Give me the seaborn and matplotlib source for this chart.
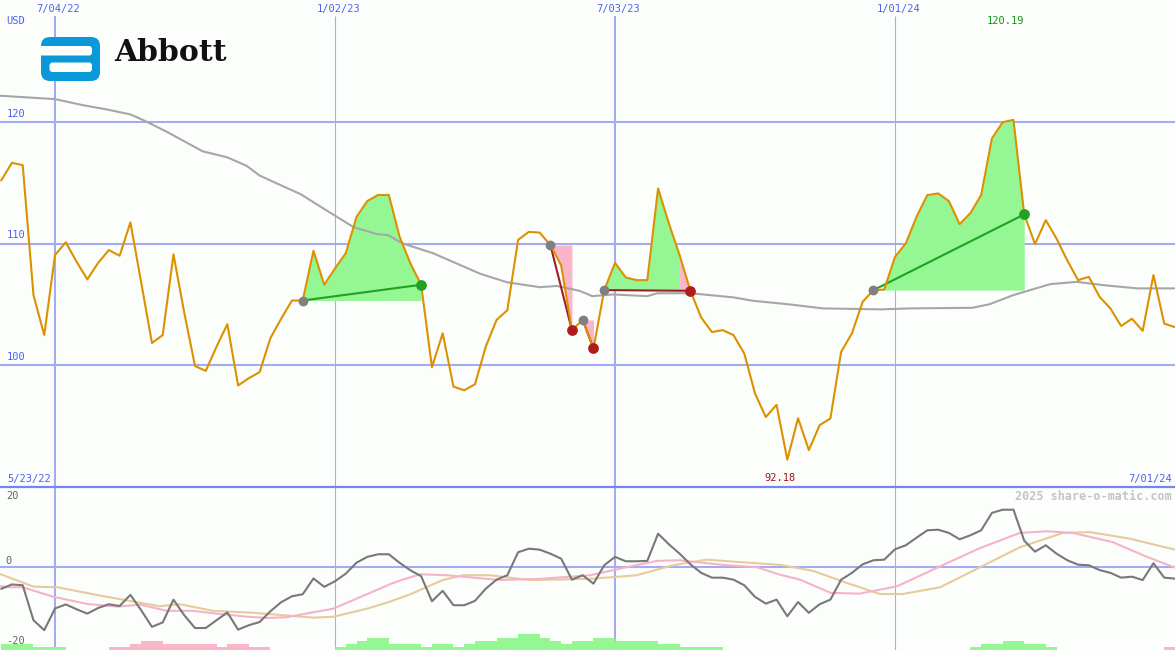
import numpy as np
import matplotlib
matplotlib.use("Agg")
import matplotlib.pyplot as plt
import matplotlib.transforms as mtransforms
from matplotlib.patches import FancyBboxPatch
import seaborn as sns

# ── Data (weekly, week 1 = 5/30/22) ────────────────────────────────────────
weeks = list(range(1, 111))
price = [115.2, 116.65, 116.46, 105.75, 102.45, 109.05, 110.1, 108.5, 107.04, 108.4,
         109.46, 108.99, 111.74, 106.8, 101.8, 102.45, 109.1, 104.3, 99.9, 99.5,
         101.5, 103.35, 98.3, 98.9, 99.4, 102.2, 103.8, 105.3, 105.3, 109.4,
         106.6, 107.95, 109.2, 112.2, 113.5, 114.0, 114.0, 110.55, 108.36, 106.6,
         99.8, 102.6, 98.2, 97.9, 98.4, 101.5, 103.7, 104.5, 110.3, 110.96,
         110.9, 109.87, 108.2, 102.86, 103.7, 101.35, 106.16, 108.4, 107.2, 106.98,
         106.98, 114.54, 111.66, 109.04, 106.1, 103.9, 102.7, 102.86, 102.45, 100.94,
         97.64, 95.7, 96.7, 92.18, 95.6, 92.97, 95.03, 95.58, 101.07, 102.6,
         105.2, 106.16, 106.2, 108.9, 110.0, 112.2, 113.99, 114.13, 113.5, 111.6,
         112.5, 114.0, 118.66, 120.0, 120.19, 112.4, 109.95, 111.93, 110.4, 108.6,
         106.98, 107.25, 105.6, 104.65, 103.2, 103.8, 102.8, 107.4, 103.4, 103.1]

ma_weeks = [0.9, 6.0, 8.6, 10.8, 13.0, 14.2, 16.4, 19.7, 22.0, 23.8, 25.0, 26.6, 28.8,
            30.9, 33.7, 35.9, 36.9, 38.3, 41.1, 45.5, 48.0, 51.0, 52.6, 54.7, 55.9,
            57.8, 61.0, 61.9, 65.0, 69.0, 70.8, 74.0, 77.3, 82.6, 85.4, 91.2, 92.8,
            95.0, 98.4, 100.9, 103.3, 106.5, 110.0]
ma_vals = [122.18, 121.9, 121.4, 121.05, 120.64, 120.17, 119.2, 117.6, 117.1, 116.4,
           115.6, 114.95, 114.07, 112.9, 111.36, 110.77, 110.7, 110.0, 109.2, 107.5,
           106.8, 106.4, 106.5, 106.1, 105.66, 105.8, 105.66, 105.9, 105.9, 105.56,
           105.28, 105.0, 104.65, 104.57, 104.65, 104.7, 105.0, 105.75, 106.65, 106.84,
           106.57, 106.3, 106.3]

osc = [-5.4, -4.3, -4.5, -13.25, -15.75, -10.3, -9.3, -10.5, -11.6, -10.2,
       -9.25, -9.7, -6.9, -10.75, -14.9, -13.8, -8.1, -12.0, -15.2, -15.2,
       -13.25, -11.3, -15.6, -14.5, -13.7, -11.0, -8.75, -7.25, -6.75, -2.8,
       -4.9, -3.5, -1.6, 1.15, 2.6, 3.25, 3.25, 1.1, -0.75, -2.25,
       -8.5, -5.9, -9.5, -9.5, -8.4, -5.35, -3.1, -2.0, 3.75, 4.65,
       4.4, 3.4, 2.15, -3.1, -2.0, -4.1, 0.5, 2.6, 1.5, 1.5,
       1.6, 8.4, 5.75, 3.4, 0.75, -1.4, -2.6, -2.6, -3.1, -4.5,
       -7.4, -9.1, -8.1, -12.25, -8.7, -11.4, -9.25, -8.1, -3.1, -1.4,
       0.75, 1.75, 1.9, 4.5, 5.5, 7.4, 9.25, 9.4, 8.6, 7.0,
       8.0, 9.25, 13.6, 14.4, 14.4, 6.65, 3.9, 5.5, 3.4, 1.75,
       0.65, 0.5, -0.7, -1.4, -2.6, -2.35, -3.2, 1.0, -2.6, -2.85]

sig_weeks = [0.9, 1.8, 3.0, 4.0, 5.8, 9.0, 11.8, 13.9, 16.4, 18.8, 21.3, 23.8, 25.7,
             27.5, 30.0, 31.8, 35.0, 37.1, 38.0, 39.9, 42.4, 47.3, 51.0, 55.7, 58.7,
             61.9, 64.0, 68.0, 71.2, 73.3, 75.2, 78.0, 80.7, 84.2, 88.2, 91.9, 95.6,
             98.1, 100.5, 104.2, 107.4, 110.0]
sig_vals = [-4.75, -5.0, -5.0, -5.85, -7.35, -9.2, -9.85, -9.35, -10.9, -10.9, -11.7,
            -12.35, -12.7, -12.5, -11.25, -10.4, -6.7, -4.25, -3.35, -1.75, -2.0, -3.2,
            -2.9, -2.0, -0.2, 1.6, 1.75, 0.6, 0.0, -1.85, -3.1, -6.4, -6.6, -4.75,
            0.25, 4.8, 8.6, 9.0, 8.6, 6.3, 2.6, -0.1]

slow_weeks = [0.9, 4.0, 6.2, 10.2, 15.7, 17.6, 20.7, 24.4, 27.2, 30.0, 31.8, 35.0,
              37.1, 39.0, 42.0, 43.9, 46.4, 50.1, 55.7, 60.0, 63.4, 66.5, 69.6, 73.3,
              76.4, 79.5, 82.6, 84.7, 88.2, 91.9, 95.6, 99.6, 102.1, 105.8, 110.0]
slow_vals = [-1.7, -4.85, -5.0, -7.1, -9.75, -9.25, -10.9, -11.4, -12.0, -12.6, -12.4,
             -10.35, -8.6, -6.75, -3.2, -2.0, -2.0, -3.2, -2.9, -2.0, 0.5, 1.9, 1.3,
             0.6, -0.9, -3.9, -6.7, -6.7, -5.0, 0.0, 5.0, 8.6, 8.8, 7.15, 4.4]

bar_levels = ([2] * 3 + [1] * 3 + [0] * 4 + [-1] * 2 + [-2] + [-3] * 2 + [-2] * 5 + [-1]
              + [-2] * 2 + [-1] * 2 + [0] * 6 + [1, 2, 3, 4, 4, 2, 2, 2, 1, 2, 2, 1, 2]
              + [3, 3, 4, 4, 5, 5, 4, 3, 2, 3, 3, 4, 4, 3, 3, 3, 3, 2, 2, 1, 1, 1, 1]
              + [0] * 23 + [1, 2, 2, 3, 3, 2, 2, 1] + [0] * 10 + [-1, 0])

entry_weeks = [29, 52, 55, 57, 82]
exit_weeks = [40, 54, 56, 65, 96]

date_weeks = [6, 32, 58, 84]
date_labels = ["7/04/22", "1/02/23", "7/03/23", "1/01/24"]
price_grid = [100, 110, 120]
osc_ticks = [20, 0, -20]
start_label, end_label = "5/23/22", "7/01/24"

# ── Style ──────────────────────────────────────────────────────────────────
BG = "#fcfefc"
GRID = "#a3acf2"
BLUE_TXT = "#5060ee"
GREEN_FILL, PINK_FILL = "#94f794", "#f8b6c8"
LOGO_BLUE = "#0a99d8"
W, H = 1175, 650
SPLIT = 487

sns.set_style("white")
plt.rcParams["font.family"] = ["DejaVu Sans Mono", "DejaVu Sans"]

fig = plt.figure(figsize=(W / 100, H / 100), dpi=100, facecolor=BG)
ax = fig.add_axes([0, (H - SPLIT) / H, 1, SPLIT / H], facecolor=BG)
ax2 = fig.add_axes([0, 0, 1, (H - SPLIT) / H], facecolor=BG)
XLIM = (0.891, 110.0)
for a in (ax, ax2):
    a.set_xlim(*XLIM)
    a.set_xticks([]); a.set_yticks([])
    for s in a.spines.values():
        s.set_visible(False)
ax.set_ylim(89.93, 130.07)
ax2.set_ylim(-20.7, 20.08)

# ── grid ──
for w, lab in zip(date_weeks, date_labels):
    lw = 1.5 if lab.startswith("7/") else 0.8
    ax.vlines(w, 89.93, 128.75, color=GRID, lw=lw, zorder=0)
    ax2.axvline(w, color=GRID, lw=lw, zorder=0)
for v in price_grid:
    ax.axhline(v, color=GRID, lw=1.5, zorder=0)
ax2.axhline(0, color=GRID, lw=1.5, zorder=0)
ax2.axhline(20, color="#7885ee", lw=1.6, zorder=6, clip_on=False)

# ── top panel ──
p = np.array(price)
wk = np.array(weeks)
for e, x in zip(entry_weeks, exit_weeks):
    sw, sp = wk[e - 1:x], p[e - 1:x]
    lvl = p[e - 1]
    up = sp >= lvl
    down = ~up
    down = down | np.r_[down[1:], False]
    ax.fill_between(sw, sp, lvl, where=up, color=GREEN_FILL, lw=0, zorder=1)
    ax.fill_between(sw, sp, lvl, where=down, color=PINK_FILL, lw=0, zorder=1)

sns.lineplot(x=ma_weeks, y=ma_vals, ax=ax, color="#a6a6a6", linewidth=1.5,
             estimator=None, sort=False, zorder=2)

for e, x in zip(entry_weeks, exit_weeks):
    win = p[x - 1] > p[e - 1]
    c = "#22a022" if win else "#a01c28"
    ax.plot([e, x], [p[e - 1], p[x - 1]], color=c, lw=1.5, zorder=3)

sns.lineplot(x=weeks, y=price, ax=ax, color="#dc9100", linewidth=1.5,
             estimator=None, sort=False, zorder=4)

for e, x in zip(entry_weeks, exit_weeks):
    win = p[x - 1] > p[e - 1]
    ax.scatter([e], [p[e - 1]], s=50, color="#808080", lw=0, zorder=5)
    ax.scatter([x], [p[x - 1]], s=60, color="#22a022" if win else "#b01c1c",
               lw=0, zorder=5)

top_tr = mtransforms.blended_transform_factory(ax.transData, ax.transAxes)
left_tr = mtransforms.blended_transform_factory(ax.transAxes, ax.transData)
fs = 7.5
for w, lab in zip(date_weeks, date_labels):
    ax.text(w + 0.3, 1 - 9 / SPLIT, lab, transform=top_tr, ha="center", va="center",
            fontsize=fs, color=BLUE_TXT)
for v in price_grid:
    ax.text(0.006, v + 0.25, str(v), transform=left_tr, ha="left", va="bottom",
            fontsize=fs, color=BLUE_TXT)
ax.text(0.005, 1 - 21 / SPLIT, "USD", transform=ax.transAxes, ha="left", va="center",
        fontsize=fs, color=BLUE_TXT)
ax.text(0.006, 1 - 479 / SPLIT, start_label, transform=ax.transAxes, ha="left",
        va="center", fontsize=fs, color=BLUE_TXT)
ax.text(0.9975, 1 - 479 / SPLIT, end_label, transform=ax.transAxes, ha="right",
        va="center", fontsize=fs, color=BLUE_TXT)
imax, imin = int(np.argmax(p)), int(np.argmin(p))
ax.text(wk[imax] - 0.7, 1 - 21 / SPLIT, f"{p[imax]:.2f}", transform=top_tr,
        ha="center", va="center", fontsize=fs, color="#119911")
ax.text(wk[imin] - 0.7, 1 - 478 / SPLIT, f"{p[imin]:.2f}", transform=top_tr,
        ha="center", va="center", fontsize=fs, color="#aa1111")

# ── bottom panel ──
lv = np.array(bar_levels)
bar_unit = 0.78
mask = lv != 0
ax2.bar(wk[mask], np.abs(lv[mask]) * bar_unit, width=1.0, align="edge", bottom=-20.7,
        color=[GREEN_FILL if l > 0 else PINK_FILL for l in lv[mask]], lw=0, zorder=1)
sns.lineplot(x=slow_weeks, y=slow_vals, ax=ax2, color="#e6cb9c", linewidth=1.5,
             estimator=None, sort=False, zorder=2)
sns.lineplot(x=sig_weeks, y=sig_vals, ax=ax2, color="#f5b3c9", linewidth=1.5,
             estimator=None, sort=False, zorder=3)
sns.lineplot(x=weeks, y=osc, ax=ax2, color="#787878", linewidth=1.5,
             estimator=None, sort=False, zorder=4)

left_tr2 = mtransforms.blended_transform_factory(ax2.transAxes, ax2.transData)
for t in osc_ticks:
    if t == max(osc_ticks):
        ax2.text(0.005, t - 0.9, str(t), transform=left_tr2, ha="left", va="top",
                 fontsize=fs, color="#666666")
    else:
        ax2.text(0.005, t + 0.3, str(t), transform=left_tr2, ha="left", va="bottom",
                 fontsize=fs, color="#666666")
ax2.text(0.9975, 1 - 9 / (H - SPLIT), "2025 share-o-matic.com", transform=ax2.transAxes,
         ha="right", va="center", fontsize=8.5, fontweight="bold", color="#c4c4c4")

# ── logo overlay (pixel coords) ──
ov = fig.add_axes([0, 0, 1, 1], facecolor="none")
ov.set_xlim(0, W); ov.set_ylim(H, 0); ov.axis("off")
ov.add_patch(FancyBboxPatch((41, 37), 59, 44, boxstyle="round,pad=0,rounding_size=9",
                            fc=LOGO_BLUE, ec="none"))
# opening between top bar and middle bar (open to the left)
ov.add_patch(FancyBboxPatch((30, 46), 62, 9.5, boxstyle="round,pad=0,rounding_size=3",
                            fc=BG, ec="none"))
ov.add_patch(FancyBboxPatch((49.5, 62.5), 42.5, 9.5,
                            boxstyle="round,pad=0,rounding_size=3", fc=BG, ec="none"))
ov.text(114, 61, "Abbott", fontsize=21.5, fontweight="bold", family="DejaVu Serif",
        color="#111111", ha="left", va="baseline")

fig.savefig("out.png", dpi=100, facecolor=BG)
